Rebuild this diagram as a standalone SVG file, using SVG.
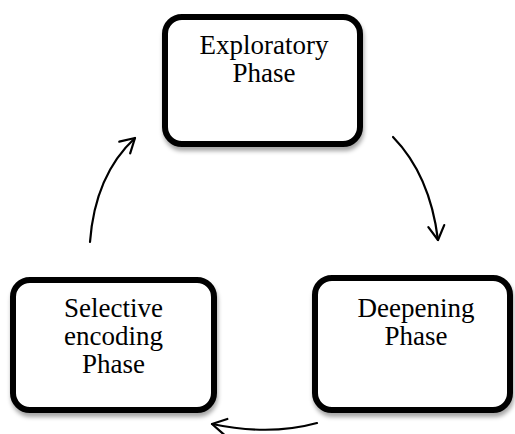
<svg xmlns="http://www.w3.org/2000/svg" width="515" height="434" viewBox="0 0 515 434">
  <defs>
    <filter id="shadow" x="-10%" y="-10%" width="120%" height="130%">
      <feDropShadow dx="1" dy="4" stdDeviation="2" flood-color="#000" flood-opacity="0.35"/>
    </filter>
    <marker id="open-arrow" viewBox="0 0 20 20" refX="17" refY="10" markerWidth="20" markerHeight="20" markerUnits="userSpaceOnUse" orient="auto">
      <path d="M3,2 L17,10 L3,18" fill="none" stroke="#000" stroke-width="2.2" stroke-linecap="round" stroke-linejoin="round"/>
    </marker>
    <style>
      .box { fill: #fff; stroke: #000; stroke-width: 6; filter: url(#shadow); }
      .label { font-family: "Liberation Serif", "Times New Roman", serif; font-size: 27px; fill: #000; text-anchor: middle; }
      .conn { fill: none; stroke: #000; stroke-width: 2.2; stroke-linecap: round; marker-end: url(#open-arrow); }
    </style>
  </defs>
  <rect width="515" height="434" fill="#fff"/>

  <g id="connectors">
    <path class="conn" d="M393,137 Q430,175 438,240"/>
    <path class="conn" d="M317,423 Q270,436 212,424"/>
    <path class="conn" d="M90,242 Q95,175 135,138"/>
  </g>

  <g id="exploratory">
    <rect class="box" x="165" y="17" width="195" height="127" rx="17"/>
    <text class="label" x="264" y="54">Exploratory</text>
    <text class="label" x="264" y="82">Phase</text>
  </g>

  <g id="deepening">
    <rect class="box" x="315" y="278" width="195" height="132" rx="17"/>
    <text class="label" x="416" y="317">Deepening</text>
    <text class="label" x="416" y="345">Phase</text>
  </g>

  <g id="selective-encoding">
    <rect class="box" x="13" y="280" width="201" height="130" rx="17"/>
    <text class="label" x="113.5" y="317">Selective</text>
    <text class="label" x="113.5" y="345">encoding</text>
    <text class="label" x="113.5" y="373">Phase</text>
  </g>
</svg>
